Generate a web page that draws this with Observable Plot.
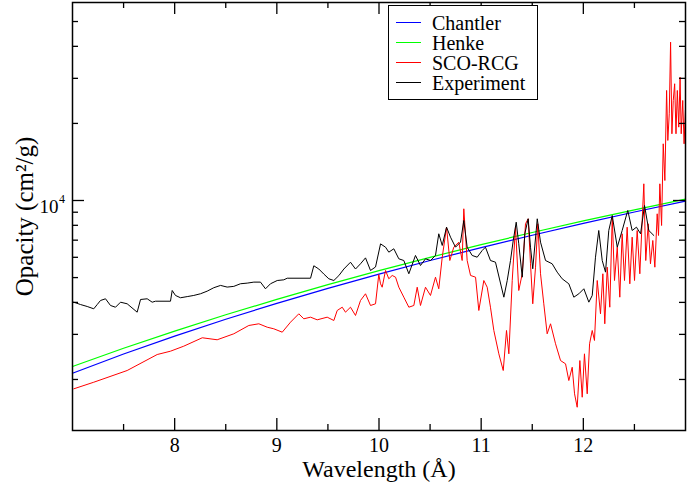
<!DOCTYPE html>
<html>
<head>
<meta charset="utf-8">
<script src="https://cdn.jsdelivr.net/npm/d3@7"></script>
<script src="https://cdn.jsdelivr.net/npm/@observablehq/plot@0.6"></script>
<style>
  body { margin: 0; background: #fff; }
  #wrap { position: relative; width: 687px; height: 485px; }
  #legend { position: absolute; left: 388px; top: 5px; width: 150px; height: 95px; box-sizing: border-box;
    border: 1px solid #000; background: #fff; font-family: 'Liberation Serif', 'Times New Roman', serif; font-size: 20px; padding-top: 6.7px; }
  .row { position: relative; height: 20px; }
  .sw { position: absolute; left: 7px; top: 9.5px; width: 25px; height: 1px; }
  .lbl { position: absolute; left: 43px; top: 0; line-height: 20px; white-space: nowrap; }
</style>
</head>
<body>
<div id="wrap"><div id="chart"></div><div id="legend"></div></div>
<script>
// ---- data ----
const seriesNames = ["Chantler", "Henke", "SCO-RCG", "Experiment"];
const seriesColors = ["#0000ff", "#00ff00", "#ff0000", "#000000"];

const chantlerWl = [7.0, 7.5, 8.0, 8.5, 9.0, 9.5, 10.0, 10.5, 11.0, 11.5, 12.0, 12.5, 13.0];
const chantlerOp = [2116, 2514, 2954, 3438, 3964, 4538, 5159, 5829, 6550, 7317, 8140, 9018, 9940];

const henkeWl = [7.0, 7.5, 8.0, 8.5, 9.0, 9.5, 10.0, 10.5, 11.0, 11.5, 12.0, 12.5, 13.0];
const henkeOp = [2247, 2649, 3090, 3580, 4109, 4691, 5319, 5999, 6729, 7497, 8325, 9198, 10120];

const scoWl = [7.013, 7.208, 7.535, 7.829, 7.959, 8.089, 8.270, 8.416, 8.579, 8.726, 8.824, 8.906, 8.970, 9.053, 9.134, 9.215, 9.264, 9.330, 9.395, 9.493, 9.558, 9.591, 9.640, 9.672, 9.721, 9.770, 9.819, 9.868, 9.917, 9.966, 9.998, 10.015, 10.031, 10.064, 10.096, 10.129, 10.162, 10.194, 10.243, 10.292, 10.341, 10.374, 10.406, 10.455, 10.504, 10.553, 10.585, 10.619, 10.661, 10.693, 10.732, 10.781, 10.814, 10.830, 10.863, 10.896, 10.945, 10.977, 11.026, 11.059, 11.091, 11.124, 11.173, 11.216, 11.248, 11.271, 11.304, 11.336, 11.368, 11.402, 11.434, 11.460, 11.483, 11.505, 11.532, 11.554, 11.581, 11.613, 11.646, 11.679, 11.728, 11.777, 11.826, 11.858, 11.891, 11.914, 11.940, 11.966, 11.989, 12.011, 12.038, 12.061, 12.087, 12.109, 12.136, 12.168, 12.191, 12.210, 12.234, 12.259, 12.283, 12.305, 12.332, 12.357, 12.380, 12.403, 12.429, 12.455, 12.478, 12.501, 12.527, 12.553, 12.576, 12.592, 12.611, 12.635, 12.657, 12.680, 12.700, 12.723, 12.736, 12.749, 12.766, 12.782, 12.798, 12.815, 12.827, 12.841, 12.854, 12.867, 12.880, 12.894, 12.907, 12.920, 12.934, 12.947, 12.958, 12.973, 12.986, 12.999];
const scoOp = [1839, 1951, 2168, 2503, 2579, 2698, 2910, 2858, 3016, 3250, 3300, 3200, 3155, 3060, 3348, 3610, 3451, 3502, 3420, 3502, 3399, 3719, 3831, 3663, 3831, 3556, 4069, 4322, 3890, 3950, 5142, 4728, 4585, 5330, 4946, 5096, 5017, 4585, 4192, 3831, 3890, 4585, 3890, 4585, 4257, 5017, 4521, 6006, 7867, 5830, 6572, 6875, 5830, 9282, 5830, 5096, 5017, 3719, 4870, 4585, 3831, 3107, 2519, 2168, 3107, 2519, 4870, 7867, 4452, 5174, 8110, 8483, 5660, 3950, 5489, 8110, 5174, 3950, 3016, 3300, 2757, 2371, 2302, 1981, 2232, 1758, 1558, 2371, 1705, 2519, 1758, 2757, 3107, 2840, 4870, 3610, 5174, 3300, 5489, 3831, 8606, 4870, 6572, 4192, 7413, 4870, 7867, 4728, 7191, 4870, 7636, 5174, 8354, 11620, 5830, 8110, 5660, 6980, 5489, 8872, 7301, 11620, 7987, 16650, 11970, 26900, 17160, 21810, 41530, 18220, 24590, 28570, 18220, 26900, 19340, 30310, 18220, 24590, 16650, 22470];

const expWl = [7.013, 7.078, 7.144, 7.208, 7.242, 7.274, 7.323, 7.372, 7.421, 7.470, 7.535, 7.633, 7.666, 7.731, 7.780, 7.812, 7.959, 7.976, 8.008, 8.057, 8.123, 8.187, 8.253, 8.318, 8.383, 8.449, 8.514, 8.579, 8.644, 8.710, 8.775, 8.840, 8.889, 8.938, 9.004, 9.068, 9.102, 9.330, 9.362, 9.411, 9.460, 9.509, 9.558, 9.607, 9.656, 9.721, 9.770, 9.819, 9.868, 9.917, 9.966, 10.015, 10.064, 10.096, 10.145, 10.194, 10.243, 10.292, 10.357, 10.406, 10.455, 10.504, 10.553, 10.585, 10.619, 10.661, 10.700, 10.749, 10.798, 10.830, 10.863, 10.912, 10.961, 11.010, 11.042, 11.091, 11.140, 11.222, 11.255, 11.287, 11.314, 11.343, 11.368, 11.402, 11.427, 11.460, 11.483, 11.505, 11.549, 11.581, 11.630, 11.695, 11.744, 11.793, 11.858, 11.907, 11.956, 12.005, 12.054, 12.087, 12.119, 12.151, 12.185, 12.217, 12.249, 12.283, 12.332, 12.380, 12.435, 12.478, 12.520, 12.560, 12.599, 12.641, 12.690];
const expOp = [4007, 3924, 3855, 3776, 3924, 4069, 4132, 3890, 3830, 4007, 3950, 3663, 4106, 4132, 4007, 4043, 4043, 4452, 4258, 4170, 4214, 4258, 4323, 4425, 4564, 4660, 4590, 4620, 4730, 4757, 4800, 4800, 4520, 4730, 4870, 4900, 4972, 4972, 5560, 5400, 5160, 4946, 4870, 5090, 5400, 5740, 5400, 5660, 5970, 5330, 5500, 6770, 6572, 6284, 6478, 5920, 5830, 5174, 6100, 5574, 5920, 5830, 6100, 7413, 6674, 7867, 7191, 6572, 6875, 8354, 6572, 6100, 6006, 6380, 6572, 5830, 5742, 4192, 4870, 5830, 6980, 8229, 6776, 5017, 7413, 8483, 6572, 5412, 8483, 6875, 5830, 5660, 5250, 4946, 4728, 4192, 4322, 4521, 4008, 4257, 6006, 7636, 5830, 5250, 7636, 8738, 6572, 7636, 9140, 7636, 7867, 7413, 9561, 7636, 7301];

const xMajor = [8, 9, 10, 11, 12];
const xMinor = [7.5, 8.5, 9.5, 10.5, 11.5, 12.5];
const yMajor = [10000];
const yMinor = [2000, 3000, 4000, 5000, 6000, 7000, 8000, 9000, 20000, 30000, 40000, 50000];
const yTickBase = ["10"];
const yTickExp = ["4"];
const xTitle = "Wavelength (\u00C5)";
const yTitle = "Opacity (cm\u00B2/g)";

// ---- chart ----
const W = 687, H = 485, mL = 72, mR = 2, mT = 2, mB = 55;
const iW = W - mL - mR, iH = H - mT - mB;
const majLen = 12, minLen = 6;
const rows = (wl, op) => wl.map((w, i) => ({wl: w, op: op[i]}));
const serif = "'Liberation Serif', 'Times New Roman', serif";

const chart = Plot.plot({
  width: W, height: H,
  marginLeft: mL, marginRight: mR, marginTop: mT, marginBottom: mB,
  style: {fontFamily: serif, background: "#fff", color: "#000"},
  x: {domain: [7, 13], axis: null},
  y: {type: "log", domain: [1264, 59330], axis: null},
  marks: [
    Plot.line(rows(chantlerWl, chantlerOp), {x: "wl", y: "op", stroke: seriesColors[0], strokeWidth: 1.2}),
    Plot.line(rows(henkeWl, henkeOp), {x: "wl", y: "op", stroke: seriesColors[1], strokeWidth: 1.2}),
    Plot.line(rows(scoWl, scoOp), {x: "wl", y: "op", stroke: seriesColors[2], strokeWidth: 1, clip: true}),
    Plot.line(rows(expWl, expOp), {x: "wl", y: "op", stroke: seriesColors[3], strokeWidth: 1}),
    // inward ticks on all four sides
    Plot.tickX(xMajor, {x: d => d, insetTop: iH - majLen, stroke: "#000", strokeWidth: 1.3}),
    Plot.tickX(xMinor, {x: d => d, insetTop: iH - minLen, stroke: "#000", strokeWidth: 1.3}),
    Plot.tickX(xMajor, {x: d => d, insetBottom: iH - majLen, stroke: "#000", strokeWidth: 1.3}),
    Plot.tickX(xMinor, {x: d => d, insetBottom: iH - minLen, stroke: "#000", strokeWidth: 1.3}),
    Plot.tickY(yMajor, {y: d => d, insetRight: iW - majLen, stroke: "#000", strokeWidth: 1.3}),
    Plot.tickY(yMinor, {y: d => d, insetRight: iW - minLen, stroke: "#000", strokeWidth: 1.3}),
    Plot.tickY(yMajor, {y: d => d, insetLeft: iW - majLen, stroke: "#000", strokeWidth: 1.3}),
    Plot.tickY(yMinor, {y: d => d, insetLeft: iW - minLen, stroke: "#000", strokeWidth: 1.3}),
    // tick labels
    Plot.text(xMajor, {x: d => d, text: d => String(d), frameAnchor: "bottom", textAnchor: "middle", lineAnchor: "top", dy: 7, fontSize: 20, fill: "#000"}),
    Plot.text(yMajor, {y: d => d, text: (d, i) => yTickBase[i], frameAnchor: "left", textAnchor: "end", lineAnchor: "middle", dx: -14, dy: 6, fontSize: 19, fill: "#000"}),
    Plot.text(yMajor, {y: d => d, text: (d, i) => yTickExp[i], frameAnchor: "left", textAnchor: "start", lineAnchor: "middle", dx: -13.5, dy: -1, fontSize: 12, fill: "#000"}),
    // axis titles
    Plot.text([xTitle], {frameAnchor: "bottom", textAnchor: "middle", lineAnchor: "middle", dy: 39, fontSize: 24, fill: "#000"}),
    Plot.text([yTitle], {frameAnchor: "left", textAnchor: "middle", lineAnchor: "middle", dx: -48, rotate: -90, fontSize: 25, fill: "#000"}),
    Plot.frame({stroke: "#000", strokeWidth: 1.5})
  ]
});
document.getElementById("chart").appendChild(chart);

// ---- legend ----
const legend = document.getElementById("legend");
seriesNames.forEach((name, i) => {
  const row = document.createElement("div");
  row.className = "row";
  row.innerHTML = `<div class="sw" style="background:${seriesColors[i]}"></div><div class="lbl">${name}</div>`;
  legend.appendChild(row);
});
</script>
</body>
</html>
